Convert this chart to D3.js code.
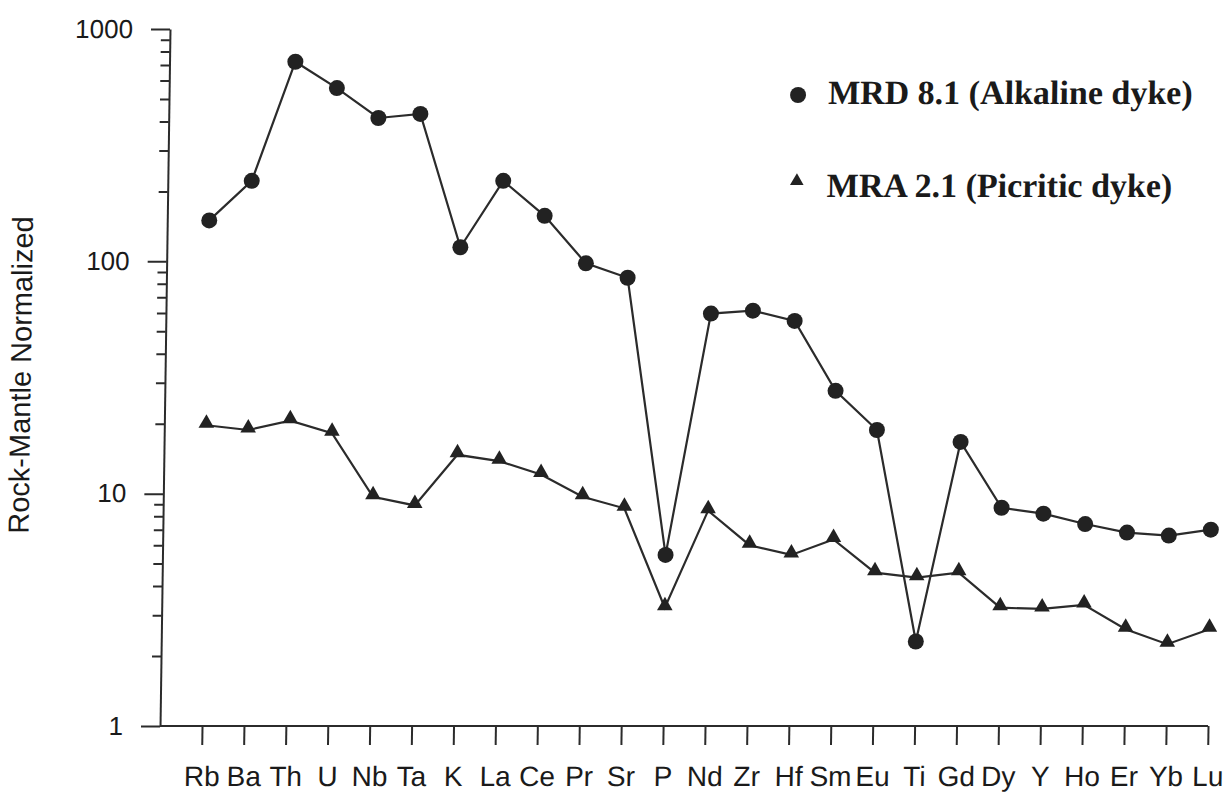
<!DOCTYPE html>
<html>
<head>
<meta charset="utf-8">
<script src="https://cdn.jsdelivr.net/npm/d3@7"></script>
<style>
  body { margin: 0; background: #fff; }
</style>
</head>
<body>
<div id="canvas"></div>
<script>
"use strict";

/* Data */
let elements = ["Rb", "Ba", "Th", "U", "Nb", "Ta", "K", "La", "Ce", "Pr", "Sr", "P", "Nd",
  "Zr", "Hf", "Sm", "Eu", "Ti", "Gd", "Dy", "Y", "Ho", "Er", "Yb", "Lu"];
let mrdValues = [150, 222, 723, 557, 414, 431, 115, 222, 157, 98, 85, 5.45, 59.6,
  61.3, 55.4, 27.7, 18.8, 2.31, 16.7, 8.7, 8.2, 7.4, 6.8, 6.6, 7.0];
let mraValues = [19.7, 18.8, 20.6, 18.2, 9.7, 8.9, 14.7, 13.8, 12.1, 9.7, 8.65, 3.23, 8.45,
  6.0, 5.45, 6.35, 4.57, 4.35, 4.57, 3.23, 3.19, 3.32, 2.61, 2.25, 2.61];
let seriesNames = ["MRD 8.1 (Alkaline dyke)", "MRA 2.1 (Picritic dyke)"];
let yTickValues = [1, 10, 100, 1000];
let yTitle = "Rock-Mantle Normalized";

/* Drawing config */
let svgWidth = 1225;
let svgHeight = 793;
let axisX = 170;
let axisTop = 29;
let axisBottom = 726;
let ink = "#2b2b2b";
let markFill = "#222";

let svg = d3.select("#canvas")
  .append("svg")
  .attr("width", svgWidth)
  .attr("height", svgHeight);

// the scan is slightly sheared, so lean the whole plot a little
let g = svg.append("g")
  .attr("transform", "translate(" + axisX + "," + axisTop + ") skewX(-0.82) translate(" + (-axisX) + "," + (-axisTop) + ")");

let xScale = d3.scalePoint()
  .domain(elements)
  .range([212, 1218]);

let yScale = d3.scaleLog()
  .domain([1, 1000])
  .range([axisBottom, axisTop]);

/* Y axis: minor ticks (2..9 in each decade) */
let minorTicks = [];
for (let p = 0; p < 3; p = p + 1) {
  for (let m = 2; m <= 9; m = m + 1) {
    minorTicks.push(m * Math.pow(10, p));
  }
}
let yMinor = g.append("g")
  .attr("transform", "translate(" + axisX + ",0)")
  .call(d3.axisLeft(yScale)
    .tickValues(minorTicks)
    .tickFormat("")
    .tickSize(9)
    .tickSizeOuter(0));
yMinor.select(".domain").remove();
yMinor.selectAll(".tick line").attr("stroke", ink).attr("stroke-width", 2);

/* Y axis: major ticks */
let yAxis = g.append("g")
  .attr("transform", "translate(" + axisX + ",0)")
  .call(d3.axisLeft(yScale)
    .tickValues(yTickValues)
    .tickFormat(d3.format("d"))
    .tickSize(19)
    .tickPadding(18)
    .tickSizeOuter(0));

yAxis.select(".domain").attr("stroke", ink).attr("stroke-width", 2);
yAxis.selectAll(".tick line").attr("stroke", ink).attr("stroke-width", 2);
yAxis.selectAll(".tick text")
  .attr("fill", "#1a1a1a")
  .attr("font-family", "'Liberation Sans', Arial, sans-serif")
  .attr("font-size", "26px");

/* X axis */
let xAxis = g.append("g")
  .attr("transform", "translate(0," + axisBottom + ")")
  .call(d3.axisBottom(xScale)
    .tickSize(19)
    .tickPadding(21)
    .tickSizeOuter(0));

xAxis.select(".domain").remove();
xAxis.append("line")
  .attr("x1", axisX)
  .attr("x2", xScale(elements[elements.length - 1]))
  .attr("stroke", ink)
  .attr("stroke-width", 2);
xAxis.selectAll(".tick line").attr("stroke", ink).attr("stroke-width", 2);
xAxis.selectAll(".tick text")
  .attr("fill", "#1a1a1a")
  .attr("font-family", "'Liberation Sans', Arial, sans-serif")
  .attr("font-size", "28px");

/* Y title */
g.append("text")
  .attr("transform", "translate(28,375) rotate(-90)")
  .attr("text-anchor", "middle")
  .attr("dominant-baseline", "middle")
  .attr("fill", "#1a1a1a")
  .attr("font-family", "'Liberation Sans', Arial, sans-serif")
  .attr("font-size", "29px")
  .text(yTitle);

/* Lines */
let line = d3.line()
  .x(function (d, i) { return xScale(elements[i]); })
  .y(function (d) { return yScale(d); });

g.append("path")
  .datum(mrdValues)
  .attr("fill", "none")
  .attr("stroke", ink)
  .attr("stroke-width", 2.2)
  .attr("d", line);

g.append("path")
  .datum(mraValues)
  .attr("fill", "none")
  .attr("stroke", ink)
  .attr("stroke-width", 2.2)
  .attr("d", line);

/* Markers */
g.append("g")
  .selectAll("circle")
  .data(mrdValues)
  .enter()
  .append("circle")
  .attr("cx", function (d, i) { return xScale(elements[i]); })
  .attr("cy", function (d) { return yScale(d); })
  .attr("r", 8)
  .attr("fill", markFill);

let triangle = d3.symbol().type(d3.symbolTriangle).size(105);
g.append("g")
  .selectAll("path")
  .data(mraValues)
  .enter()
  .append("path")
  .attr("transform", function (d, i) {
    return "translate(" + xScale(elements[i]) + "," + (yScale(d) - 2) + ")";
  })
  .attr("d", triangle)
  .attr("fill", markFill);

/* Legend */
let legend = g.append("g");
legend.append("circle")
  .attr("cx", 799)
  .attr("cy", 95)
  .attr("r", 8)
  .attr("fill", markFill);
legend.append("path")
  .attr("transform", "translate(799,181)")
  .attr("d", d3.symbol().type(d3.symbolTriangle).size(80))
  .attr("fill", markFill);

legend.selectAll("text")
  .data(seriesNames)
  .enter()
  .append("text")
  .attr("x", 829)
  .attr("y", function (d, i) { return i === 0 ? 104 : 197; })
  .attr("fill", "#1a1a1a")
  .attr("font-family", "'Liberation Serif', 'Times New Roman', serif")
  .attr("font-weight", "bold")
  .attr("font-size", "34px")
  .text(function (d) { return d; });
</script>
</body>
</html>
